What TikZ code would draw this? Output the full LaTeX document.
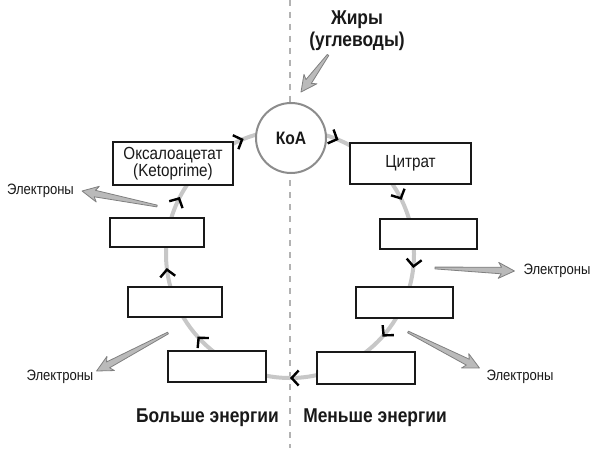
\documentclass[tikz,border=0pt]{standalone}
\usepackage{fontspec}
\setmainfont[FakeStretch=0.87]{Liberation Sans}
\usetikzlibrary{calc,arrows.meta,decorations.markings}
\tikzset{
  chv/.tip={Straight Barb[length=7pt,width=15pt,line width=2.4pt,color=black]},
}
\begin{document}
\begin{tikzpicture}[x=1pt,y=1pt,
  box/.style={draw=black!90, line width=1.9pt, fill=white, inner sep=0pt,
    font=\fontsize{17.5}{17}\selectfont, align=center, text=black!90},
  koastyle/.style={circle, draw=black!45, line width=2pt, fill=white,
    minimum size=70pt, inner sep=0pt, font=\bfseries\fontsize{18}{18}\selectfont, text=black!90},
  cyclepath/.style={draw=black!22, line width=4pt},
  dashline/.style={draw=black!30, line width=1.2pt, dash pattern=on 6pt off 6pt},
  lbl/.style={font=\fontsize{15}{15}\selectfont, inner sep=0pt, text=black!90},
  big/.style={font=\bfseries\fontsize{20}{22}\selectfont, inner sep=0pt, align=center, text=black!90},
  fatarrow/.style={draw=black!50, fill=black!27, line width=0.8pt, line join=round},
  fat/.style={to path={
    let \p1=(\tikztostart), \p2=(\tikztotarget),
        \n1={atan2(\y2-\y1,\x2-\x1)}, \n2={veclen(\x2-\x1,\y2-\y1)} in
    ($(\p1)+({\n1+90}:0.9)$)
    -- ($(\p1)+(\n1:{\n2-13})+({\n1+90}:3.3)$)
    -- ($(\p1)+(\n1:{\n2-16})+({\n1+90}:8)$)
    -- (\p2)
    -- ($(\p1)+(\n1:{\n2-16})+({\n1-90}:8)$)
    -- ($(\p1)+(\n1:{\n2-13})+({\n1-90}:3.3)$)
    -- ($(\p1)+({\n1-90}:0.9)$) -- cycle}},
  marks/.style={decoration={markings,
    mark=at position 0.064 with {\arrow{chv}},
    mark=at position 0.178 with {\arrow{chv}},
    mark=at position 0.268 with {\arrow{chv}},
    mark=at position 0.366 with {\arrow{chv}},
    mark=at position 0.5 with {\arrow{chv}},
    mark=at position 0.634 with {\arrow{chv}},
    mark=at position 0.732 with {\arrow{chv}},
    mark=at position 0.826 with {\arrow{chv}},
    mark=at position 0.939 with {\arrow{chv}}},
    postaction={decorate}}
]
\fill[white] (0,0) rectangle (596,448);
\useasboundingbox (0,0) rectangle (596,448);

% dashed divider
\coordinate (dtop) at (290,448);
\coordinate (dbot) at (290,0);
\draw[dashline] (dtop) -- (dbot);

% cycle
\coordinate (cyc) at (290,194);
\draw[cyclepath, marks] (cyc) ++(0,124) arc[start angle=90, end angle=-270, radius=124];

% nodes
\node[koastyle] (koa) at (291,310) {КоА};
\node[box, minimum width=120pt, minimum height=43pt] (oxa) at (173,284.5) {Оксалоацетат\\(Ketoprime)};
\node[box, minimum width=121pt, minimum height=41pt] (cit) at (410.5,284.5) {Цитрат};
\node[box, minimum width=94pt, minimum height=29pt] (l2) at (157,215.5) {};
\node[box, minimum width=97pt, minimum height=30pt] (r2) at (428.5,214) {};
\node[box, minimum width=94pt, minimum height=30pt] (l3) at (175,146) {};
\node[box, minimum width=97pt, minimum height=31pt] (r3) at (404.5,145.5) {};
\node[box, minimum width=98pt, minimum height=31pt] (l4) at (217,81.5) {};
\node[box, minimum width=98pt, minimum height=32pt] (r4) at (366,80) {};

% labels
\node[big] (fats) at (357,417) {Жиры\\(углеводы)};
\node[big] (more) at (207.5,30) {Больше энергии};
\node[big] (less) at (375,30) {Меньше энергии};
\node[lbl] (e1) at (40.5,257) {Электроны};
\node[lbl] (e2) at (557,177) {Электроны};
\node[lbl] (e3) at (60,71) {Электроны};
\node[lbl] (e4) at (520,71) {Электроны};

% electron / fat arrows
\coordinate (t1) at (157,242);
\coordinate (t2) at (435,180);
\coordinate (t3) at (168,115);
\coordinate (t4) at (408,116);
\coordinate (t5) at (328,393);
\coordinate (p1) at ([xshift=8]e1.east);
\coordinate (p2) at ([xshift=-9]e2.west);
\coordinate (p3) at ([shift={(3,6)}]e3.east);
\coordinate (p4) at ([shift={(-7,9)}]e4.west);
\coordinate (p5) at ([shift={(10,10)}]koa.north);
\draw[fatarrow] (t1) to[fat] (p1);
\draw[fatarrow] (t2) to[fat] (p2);
\draw[fatarrow] (t3) to[fat] (p3);
\draw[fatarrow] (t4) to[fat] (p4);
\draw[fatarrow] (t5) to[fat] (p5);
\end{tikzpicture}
\end{document}
